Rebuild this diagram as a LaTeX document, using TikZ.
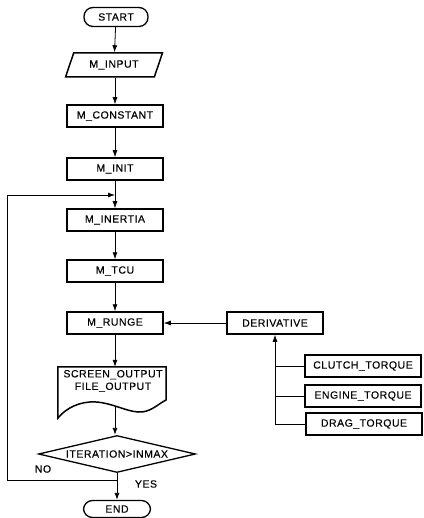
\documentclass[tikz,border=0pt]{standalone}
\usepackage{fontspec}
\setmainfont{Liberation Sans}[LetterSpace=5,FakeBold=0.3]
\usetikzlibrary{arrows.meta,shapes.geometric}
\begin{document}
\begin{tikzpicture}[x=1pt,y=-1pt,font=\fontsize{10.5}{12.5}\selectfont,
  box/.style={draw,line width=1.5pt,minimum width=96pt,minimum height=22pt,inner sep=0pt},
  sbox/.style={box,minimum width=116pt},
  term/.style={draw,line width=1.3pt,rounded corners=9pt,minimum width=64pt,minimum height=19pt,inner sep=0pt},
  con/.style={line width=0.8pt},
  arr/.style={con,-{Latex[length=7pt,width=5pt]}},
  lbl/.style={inner sep=0pt}]
\useasboundingbox (0,0) rectangle (423,518);
% main column
\node[term] (start) at (116,17) {START};
\node[draw,line width=1.5pt,trapezium,trapezium left angle=62,trapezium right angle=118,
      trapezium stretches=true,minimum width=97pt,minimum height=24pt,inner sep=0pt] (input) at (114,65) {M\_INPUT};
\node[box] (const) at (115,116) {M\_CONSTANT};
\node[box] (init) at (115,169) {M\_INIT};
\node[box] (inertia) at (115,220) {M\_INERTIA};
\node[box] (tcu) at (115,271) {M\_TCU};
\node[box] (runge) at (115,323) {M\_RUNGE};
% document
\node[minimum width=108pt,minimum height=51pt,inner sep=0pt] (doc) at (112,392.5) {};
\node[lbl,align=center] (doctext) at (113,381) {SCREEN\_OUTPUT\\FILE\_OUTPUT};
\draw[line width=1.5pt] (doc.south west) -- (doc.north west) -- (doc.north east) -- (166,400)
  .. controls (158,404) and (150,413) .. (138,412)
  .. controls (125,411) and (112,403) .. (96,402)
  .. controls (80,401) and (66,408) .. (doc.south west) -- cycle;
\coordinate (docout) at (115,406);
% decision
\node[draw,line width=1.3pt,diamond,aspect=4.2,minimum width=157pt,minimum height=37pt,inner sep=0pt] (diam) at (117,454) {ITERATION>INMAX};
\node[term,minimum width=67pt,minimum height=17pt] (end) at (117,509) {END};
% right side
\node[box] (deriv) at (275,323) {DERIVATIVE};
\node[sbox] (clutch) at (363,366) {CLUTCH\_TORQUE};
\node[sbox] (engine) at (363,396) {ENGINE\_TORQUE};
\node[sbox] (drag) at (364,424) {DRAG\_TORQUE};
% connectors
\draw[arr] (start) -- (input);
\draw[arr] (input.south -| const.north) -- (const.north);
\draw[arr] (const) -- (init);
\draw[arr] (init) -- (inertia);
\draw[arr] (inertia) -- (tcu);
\draw[arr] (tcu) -- (runge);
\draw[arr] (runge.south) -- (runge.south |- doc.north);
\draw[arr] (docout) -- (docout |- diam.north);
\draw[arr] (diam.south) -- (end.north);
\draw[arr] (deriv.west) -- (runge.east);
\draw[arr] (drag.west) -- (drag.west -| deriv.south) -- (deriv.south);
\draw[con] (clutch.west) -- (clutch.west -| deriv.south);
\draw[con] (engine.west) -- (engine.west -| deriv.south);
% loop back
\coordinate (lj) at (117,480);
\coordinate (lc) at (7,480);
\coordinate (lt) at (7,195);
\coordinate (li) at (115,195);
\draw[arr] (lj) -- (lc) -- (lt) -- (li);
\node[lbl] (no) at (43,469) {NO};
\node[lbl] (yes) at (146,484) {YES};
\end{tikzpicture}
\end{document}
